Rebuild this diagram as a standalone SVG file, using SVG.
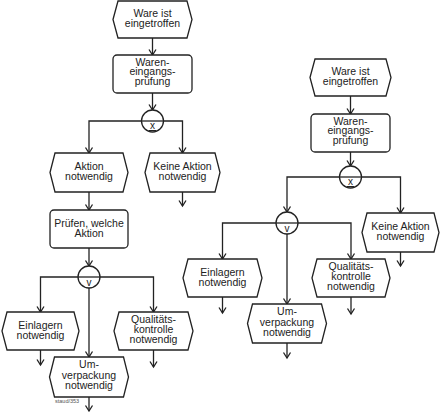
<svg xmlns="http://www.w3.org/2000/svg" width="442" height="412" viewBox="0 0 442 412">
<style>
.s{fill:#fff;stroke:#222;stroke-width:1.3}
.c{fill:none;stroke:#222;stroke-width:1.3}
.t{font-family:"Liberation Sans",Arial,sans-serif;font-size:10.5px;fill:#222;text-anchor:middle}
.y{font-family:"Liberation Sans",Arial,sans-serif;font-size:10px;fill:#222;text-anchor:middle}
</style>
<defs>
<marker id="a" markerUnits="userSpaceOnUse" markerWidth="12" markerHeight="12" refX="0" refY="0" viewBox="-7 -6 8 12" orient="auto" overflow="visible">
<path d="M-5.5,-3.5 L0,0 L-5.5,3.5" fill="none" stroke="#222" stroke-width="1.3"/>
</marker>
</defs>
<rect width="442" height="412" fill="#fff"/>
<g id="connectors" class="c" marker-end="url(#a)">
<path d="M152.5,38 V55"/>
<path d="M152.5,93 V110"/>
<path d="M141.5,121 H89 V153"/>
<path d="M163.5,121 H182.5 V153"/>
<path d="M182.5,192 V206"/>
<path d="M89,192 V210"/>
<path d="M89,248 V266"/>
<path d="M78,277 H40.5 V312"/>
<path d="M100,277 H153.5 V312"/>
<path d="M89,288 V357"/>
<path d="M40.5,350 V365"/>
<path d="M153.5,350 V367"/>
<path d="M89,397 V411"/>
<path d="M350.5,96 V114"/>
<path d="M350.5,152 V166"/>
<path d="M339.5,177 H287 V212"/>
<path d="M361.5,177 H400.5 V213"/>
<path d="M400.5,252 V266"/>
<path d="M276,223 H222.5 V259"/>
<path d="M298,223 H351 V259"/>
<path d="M287,234 V304"/>
<path d="M222.5,297 V313"/>
<path d="M351,297 V314"/>
<path d="M287,343 V358"/>
</g>
<g id="e1"><path class="s" d="M113,19.5 L118,1 L187,1 L192,19.5 L187,38 L118,38 Z"/><text class="t" x="152.5" y="16.5">Ware ist</text><text class="t" x="152.5" y="27">eingetroffen</text></g>
<g id="f1"><rect class="s" x="113" y="55" width="79" height="38" rx="4"/><text class="t" x="152.5" y="65.5">Waren-</text><text class="t" x="152.5" y="75">eingangs-</text><text class="t" x="152.5" y="84.5">prüfung</text></g>
<g id="xor1"><circle class="s" cx="152.5" cy="121" r="11"/><path class="c" d="M141.5,121 H163.5"/><text class="y" x="152.5" y="129">x</text><path d="M148.5,130.5 H156.5" stroke="#222" stroke-width="1"/></g>
<g id="e2"><path class="s" d="M50,172.5 L55,153 L123,153 L128,172.5 L123,192 L55,192 Z"/><text class="t" x="89" y="169.5">Aktion</text><text class="t" x="89" y="180">notwendig</text></g>
<g id="e3"><path class="s" d="M145,172.5 L150,153 L215,153 L220,172.5 L215,192 L150,192 Z"/><text class="t" x="182.5" y="169.5">Keine Aktion</text><text class="t" x="182.5" y="180">notwendig</text></g>
<g id="f2"><rect class="s" x="50" y="210" width="78" height="38" rx="4"/><text class="t" x="89" y="226.5">Prüfen, welche</text><text class="t" x="89" y="236.5">Aktion</text></g>
<g id="or1"><circle class="s" cx="89" cy="277" r="11"/><path class="c" d="M78,277 H100"/><text class="y" x="89" y="286">v</text></g>
<g id="e4"><path class="s" d="M2,331 L7,312 L74,312 L79,331 L74,350 L7,350 Z"/><text class="t" x="40.5" y="328.5">Einlagern</text><text class="t" x="40.5" y="339">notwendig</text></g>
<g id="e5"><path class="s" d="M114,331 L119,312 L188,312 L193,331 L188,350 L119,350 Z"/><text class="t" x="153.5" y="322.5">Qualitäts-</text><text class="t" x="153.5" y="333">kontrolle</text><text class="t" x="153.5" y="343">notwendig</text></g>
<g id="e6"><path class="s" d="M49.5,377 L54.5,357 L123.5,357 L128.5,377 L123.5,397 L54.5,397 Z"/><text class="t" x="89" y="368">Um-</text><text class="t" x="89" y="378.5">verpackung</text><text class="t" x="89" y="388.5">notwendig</text></g>
<text x="55" y="403" font-family="Liberation Sans,Arial,sans-serif" font-size="5.5" fill="#555">staud/353</text>
<g id="e7"><path class="s" d="M310,77.5 L315,59 L386,59 L391,77.5 L386,96 L315,96 Z"/><text class="t" x="350.5" y="75">Ware ist</text><text class="t" x="350.5" y="85">eingetroffen</text></g>
<g id="f3"><rect class="s" x="311" y="114" width="79" height="38" rx="4"/><text class="t" x="350.5" y="124.5">Waren-</text><text class="t" x="350.5" y="134">eingangs-</text><text class="t" x="350.5" y="143.5">prüfung</text></g>
<g id="xor2"><circle class="s" cx="350.5" cy="177" r="11"/><path class="c" d="M339.5,177 H361.5"/><text class="y" x="350.5" y="185">x</text><path d="M346.5,186.5 H354.5" stroke="#222" stroke-width="1"/></g>
<g id="e8"><path class="s" d="M362,232.5 L367,213 L434,213 L439,232.5 L434,252 L367,252 Z"/><text class="t" x="400.5" y="229.5">Keine Aktion</text><text class="t" x="400.5" y="240">notwendig</text></g>
<g id="or2"><circle class="s" cx="287" cy="223" r="11"/><path class="c" d="M276,223 H298"/><text class="y" x="287" y="232">v</text></g>
<g id="e9"><path class="s" d="M183,278 L188,259 L257,259 L262,278 L257,297 L188,297 Z"/><text class="t" x="222.5" y="275.5">Einlagern</text><text class="t" x="222.5" y="286">notwendig</text></g>
<g id="e10"><path class="s" d="M312,278 L317,259 L385,259 L390,278 L385,297 L317,297 Z"/><text class="t" x="351" y="269.5">Qualitäts-</text><text class="t" x="351" y="280">kontrolle</text><text class="t" x="351" y="290">notwendig</text></g>
<g id="e11"><path class="s" d="M247.5,323.5 L252.5,304 L321.5,304 L326.5,323.5 L321.5,343 L252.5,343 Z"/><text class="t" x="287" y="315">Um-</text><text class="t" x="287" y="325.5">verpackung</text><text class="t" x="287" y="335.5">notwendig</text></g>
</svg>
